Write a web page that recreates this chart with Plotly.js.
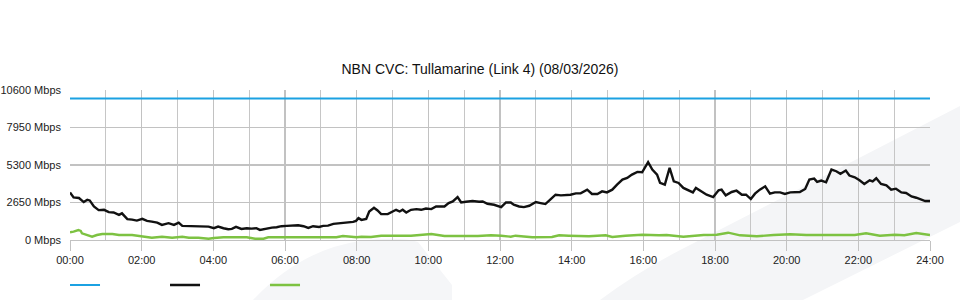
<!DOCTYPE html>
<html>
<head>
<meta charset="utf-8">
<script src="https://cdn.plot.ly/plotly-3.0.1.min.js"></script>
<style>
html,body{margin:0;padding:0;background:#fff;}
#chart{width:960px;height:300px;}
</style>
</head>
<body>
<div id="chart"></div>
<script>
// Time in minutes after midnight, traffic in Mbps
const capacityTime = [0, 1440];
const capacityMbps = [10000, 10000];

const downTime = [0,6,15,23,29,33,40,48,57,65,73,82,87,96,104,112,121,129,137,146,154,165,174,182,188,204,224,232,241,248,257,265,271,278,287,296,304,312,318,326,338,346,354,363,374,382,391,399,407,417,424,432,441,449,457,466,474,479,483,488,496,501,509,515,521,532,541,546,552,557,563,571,580,588,596,605,613,621,627,634,641,649,655,663,674,685,691,699,710,722,730,738,743,752,760,769,780,788,796,805,813,822,830,838,847,855,866,874,883,891,899,908,916,925,933,941,950,958,968,975,983,988,996,1004,1011,1019,1027,1036,1043,1048,1058,1066,1077,1086,1091,1098,1108,1116,1125,1132,1140,1147,1155,1164,1172,1180,1189,1197,1206,1214,1222,1231,1238,1246,1251,1258,1266,1275,1283,1290,1299,1305,1314,1322,1330,1339,1344,1350,1358,1367,1375,1383,1392,1400,1409,1417,1425,1432,1440];
const downMbps = [3365,3009,2967,2682,2846,2796,2369,2113,2134,1971,1942,1779,1885,1473,1444,1373,1494,1352,1302,1231,1067,1188,1067,1231,996,996,975,946,832,946,832,761,783,925,783,832,804,832,711,783,875,903,975,996,996,1046,975,854,975,925,996,1017,1138,1160,1209,1231,1281,1352,1544,1423,1494,2013,2276,2084,1828,1828,2063,2134,2013,2134,1942,2134,2184,2134,2227,2184,2369,2369,2369,2611,2725,3038,2654,2703,2753,2703,2725,2561,2490,2326,2654,2654,2490,2369,2326,2419,2682,2611,2540,2895,3201,3152,3152,3201,3294,3294,3557,3251,3251,3436,3365,3557,3913,4268,4389,4624,4816,4788,5499,4980,4624,4034,3913,5101,4147,4034,3678,3486,3365,3678,3393,3201,3038,3507,3557,3152,3393,3486,3201,3201,2895,3272,3557,3792,3272,3365,3365,3251,3365,3365,3393,3607,4268,4340,4105,4197,4076,4980,4859,4674,4909,4553,4432,4219,3963,4219,4147,4361,3963,3863,3557,3628,3365,3322,3080,2988,2846,2753,2753];

const upTime = [0,6,14,18,20,29,37,45,54,71,82,104,121,137,154,171,188,199,215,232,241,257,296,310,324,332,379,446,457,469,480,488,504,521,571,605,616,627,683,705,722,738,746,774,807,819,835,869,897,908,930,958,986,999,1027,1061,1083,1102,1122,1150,1178,1206,1233,1264,1314,1333,1356,1381,1397,1417,1428,1440];
const upMbps = [545,590,707,636,474,332,233,353,424,424,353,353,283,163,233,163,233,163,163,92,141,191,191,92,92,191,191,191,283,260,191,233,212,304,304,424,375,283,283,332,304,233,304,191,212,332,304,260,332,212,304,375,332,353,233,353,375,516,332,260,353,403,353,353,353,474,304,375,332,495,445,353];

const xTickVals = [0,120,240,360,480,600,720,840,960,1080,1200,1320,1440];
const xTickText = ['00:00','02:00','04:00','06:00','08:00','10:00','12:00','14:00','16:00','18:00','20:00','22:00','24:00'];
const yTickVals = [0,2650,5300,7950,10600];
const yTickText = ['0 Mbps','2650 Mbps','5300 Mbps','7950 Mbps','10600 Mbps'];

const chartTitle = 'NBN CVC: Tullamarine (Link 4) (08/03/2026)';

// Plot-area geometry (pixels) used to place the decorative watermark
const M = {l:70, r:30, t:90, b:60};
const W = 960 - M.l - M.r, H = 300 - M.t - M.b;
function px(x, y){ return ((x - M.l) / W).toFixed(4) + ',' + ((M.t + H - y) / H).toFixed(4); }

const traces = [
  {x: capacityTime, y: capacityMbps, type:'scatter', mode:'lines', name:' ',
   line:{color:'#1ba1e2', width:2}, hoverinfo:'skip'},
  {x: downTime, y: downMbps, type:'scatter', mode:'lines', name:' ',
   line:{color:'#111111', width:2.4}},
  {x: upTime, y: upMbps, type:'scatter', mode:'lines', name:' ',
   line:{color:'#7dc242', width:2.4}}
];

const layout = {
  width:960, height:300,
  margin:{l:M.l, r:M.r, t:M.t, b:M.b, pad:0, autoexpand:false},
  paper_bgcolor:'#ffffff', plot_bgcolor:'rgba(0,0,0,0)',
  font:{family:'"Liberation Sans", Arial, sans-serif', size:11, color:'#222'},
  title:{text:chartTitle, x:0.5, xanchor:'center', y:1, yref:'paper', yanchor:'bottom', pad:{b:16},
         font:{family:'"Liberation Sans", Arial, sans-serif', size:14, color:'#111'}},
  showlegend:true,
  legend:{orientation:'h', x:-0.0058, xanchor:'left', xref:'paper', yref:'container', y:0.05, yanchor:'middle',
          entrywidth:55, entrywidthmode:'pixels', itemwidth:30, font:{size:1},
          bgcolor:'rgba(0,0,0,0)', borderwidth:0, itemclick:false},
  xaxis:{range:[0,1440], tickmode:'array', tickvals:xTickVals, ticktext:xTickText,
         showgrid:true, gridcolor:'#c2c2c2', gridwidth:1.2,
         minor:{dtick:60, tick0:0, showgrid:true, gridcolor:'#c6c6c6', gridwidth:1, ticks:''},
         ticks:'outside', ticklen:10, tickcolor:'#c2c2c2', tickwidth:1,
         showline:true, linecolor:'#c2c2c2', linewidth:1, mirror:false,
         zeroline:false, fixedrange:true, tickfont:{size:11, color:'#222'}},
  yaxis:{range:[0,10600], tickmode:'array', tickvals:yTickVals, ticktext:yTickText,
         showgrid:true, gridcolor:'#c2c2c2', gridwidth:1.6,
         ticks:'', ticklabelstandoff:8, showline:false, zeroline:false, fixedrange:true,
         tickfont:{size:11, color:'#222'}},
  shapes:[
    {type:'path', xref:'paper', yref:'paper', layer:'below', line:{width:0}, fillcolor:'#f4f5f7',
     path:'M' + px(960,106) + ' L' + px(690,245) + ' Q' + px(640,270) + ' ' + px(600,300) +
          ' L' + px(803,300) + ' L' + px(960,222) + ' Z'},
    {type:'path', xref:'paper', yref:'paper', layer:'below', line:{width:0}, fillcolor:'#f5f6f8',
     path:'M' + px(253,300) + ' Q' + px(300,250) + ' ' + px(360,241) + ' Q' + px(400,236) + ' ' + px(418,242) +
          ' L' + px(452,285) + ' L' + px(452,300) + ' Z'}
  ]
};

Plotly.newPlot('chart', traces, layout, {displayModeBar:false, staticPlot:true});
</script>
</body>
</html>
